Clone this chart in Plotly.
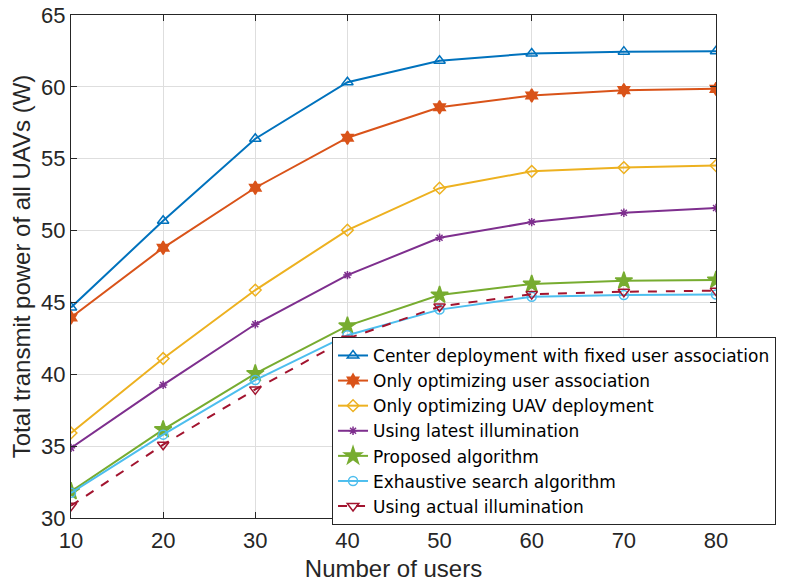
import plotly.graph_objects as go

# Number of users on the horizontal axis
users = [10, 20, 30, 40, 50, 60, 70, 80]

# Total transmit power (W) for each scheme
center_fixed = [44.65, 50.68, 56.39, 60.32, 61.82, 62.32, 62.45, 62.48]
only_assoc = [43.95, 48.8, 52.98, 56.46, 58.58, 59.4, 59.77, 59.86]
only_deploy = [35.92, 41.1, 45.86, 50.03, 52.95, 54.12, 54.38, 54.52]
latest_illum = [34.88, 39.26, 43.48, 46.9, 49.5, 50.59, 51.24, 51.57]
proposed = [31.85, 36.15, 40.05, 43.37, 45.52, 46.28, 46.51, 46.56]
exhaustive = [31.75, 35.8, 39.6, 42.72, 44.5, 45.39, 45.51, 45.55]
actual_illum = [30.85, 35.1, 38.95, 42.48, 44.72, 45.58, 45.74, 45.82]

names = [
    "Center deployment with fixed user association",
    "Only optimizing user association",
    "Only optimizing UAV deployment",
    "Using latest illumination",
    "Proposed algorithm",
    "Exhaustive search algorithm",
    "Using actual illumination",
]
series = [center_fixed, only_assoc, only_deploy, latest_illum,
          proposed, exhaustive, actual_illum]
colors = ["#0072BD", "#D95319", "#EDB120", "#7E2F8E",
          "#77AC30", "#4DBEEE", "#A2142F"]
symbols = ["triangle-up-open", "hexagram", "diamond-open",
           "asterisk-open", "star", "circle-open", "triangle-down-open"]
sizes = [10, 10, 9, 7, 13, 9, 10]
dashes = ["solid"] * 6 + ["dash"]

fig = go.Figure()
for name, ys, c, sym, sz, d in zip(names, series, colors, symbols, sizes, dashes):
    fig.add_trace(go.Scatter(
        x=users, y=ys, name=name, mode="lines+markers",
        line=dict(color=c, width=2, dash=d),
        marker=dict(symbol=sym, size=sz, color=c, line=dict(color=c, width=1.5)),
    ))

axis_common = dict(
    showline=True, linecolor="#262626", linewidth=1, mirror="ticks",
    ticks="inside", ticklen=6, tickcolor="#262626",
    showgrid=True, gridcolor="#dedede", gridwidth=1, zeroline=False,
    tickfont=dict(family="Liberation Sans, Arial", size=22, color="#262626"),
)

fig.update_layout(
    width=785, height=582,
    margin=dict(l=71, r=69, t=15, b=64, autoexpand=False),
    paper_bgcolor="white", plot_bgcolor="white",
    font=dict(family="Liberation Sans, Arial", color="#262626"),
    xaxis=dict(
        range=[10, 80], tickvals=users, ticklabelstandoff=3,
        title=dict(text="Number of users", standoff=8,
                   font=dict(size=24, color="#262626")),
        **axis_common,
    ),
    yaxis=dict(
        range=[30, 65], dtick=5,
        title=dict(text="Total transmit power of all UAVs (W)", standoff=3,
                   font=dict(size=24, color="#262626")),
        **axis_common,
    ),
    legend=dict(
        x=0.4047, y=0.36, xanchor="left", yanchor="top",
        bgcolor="white", bordercolor="#262626", borderwidth=1,
        font=dict(family="DejaVu Sans", size=17, color="#000000"),
        tracegroupgap=0, itemwidth=30,
    ),
)

fig.write_html("out.html")
